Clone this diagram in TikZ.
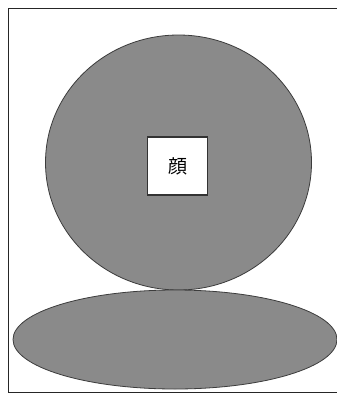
\documentclass[tikz,border=0pt]{standalone}
\usepackage{fontspec}
\newfontfamily\cjk{Noto Sans CJK JP}
\definecolor{facegray}{RGB}{138,138,138}
\definecolor{edgegray}{RGB}{60,60,60}
\usetikzlibrary{shapes.geometric,positioning}

\begin{document}
\begin{tikzpicture}[
  x=1pt, y=-1pt,
  blob/.style={draw=edgegray, fill=facegray, line width=0.8pt, inner sep=0pt, ellipse},
  labelbox/.style={draw=black!80, fill=white, line width=1.3pt,
                   minimum width=60pt, minimum height=58pt, font=\cjk\fontsize{19}{19}\selectfont}
]
\useasboundingbox (0,0) rectangle (337,394);
\fill[white] (0,0) rectangle (337,394);
% frame
\draw[black!85, line width=1pt] (8.5,8) rectangle (345,392);
% head and base
\node[blob, minimum width=266pt, minimum height=255pt] (face) at (178.5,162.5) {};
\node[blob, minimum width=324pt, minimum height=99pt] (base) at (175,339.5) {};
\node[labelbox] (name) at (177.5,166) {顔};
\end{tikzpicture}
\end{document}
